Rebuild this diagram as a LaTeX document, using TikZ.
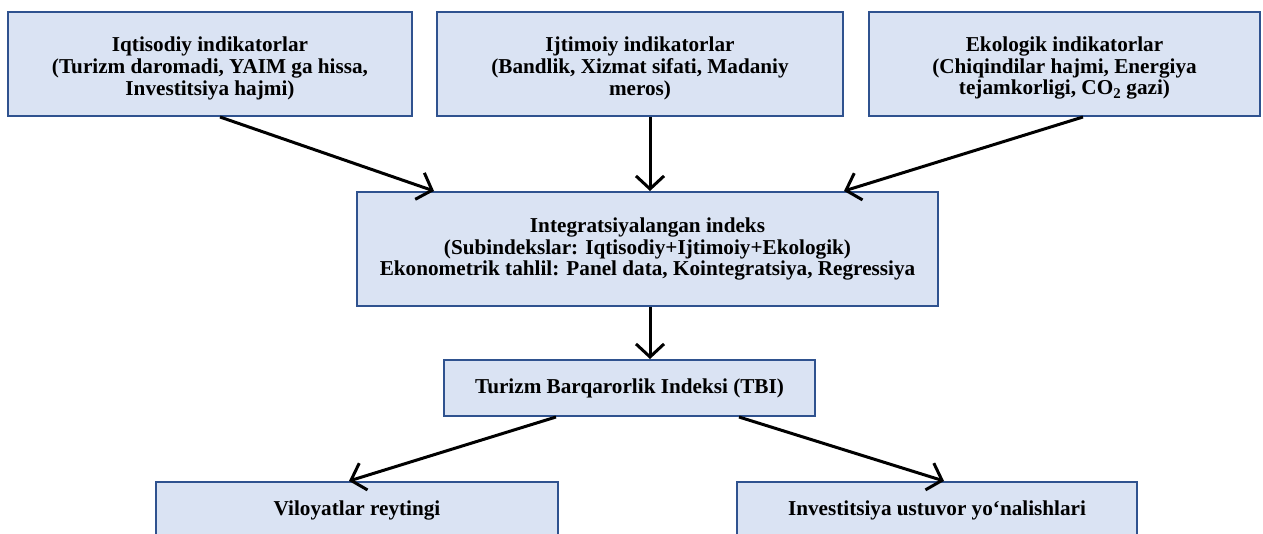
\documentclass[tikz,border=0pt]{standalone}
\usepackage{fontspec}
\setmainfont{Liberation Serif}
\usetikzlibrary{arrows.meta,calc}
\definecolor{boxfill}{HTML}{DAE3F3}
\definecolor{boxline}{HTML}{2F528F}
\newcommand{\toppad}{\rule{0pt}{23pt}}
\tikzset{
  box/.style={draw=boxline, line width=2pt, fill=boxfill, rectangle, align=center,
    inner sep=0pt, font=\fontsize{21.2}{21.8}\selectfont\bfseries},
  conn/.style={line width=3pt, -{Straight Barb[length=13pt,width=28pt,line width=3pt]}}
}
\begin{document}
\begin{tikzpicture}[x=1pt,y=-1pt]
\useasboundingbox (0,0) rectangle (1263,534);
\clip (0,0) rectangle (1263,534);
\node[box, minimum width=404pt, minimum height=104pt] (eco) at (210,64)
  {\toppad Iqtisodiy indikatorlar\\(Turizm daromadi, YAIM ga hissa,\\Investitsiya hajmi)};
\node[box, minimum width=406pt, minimum height=104pt] (soc) at (640,64)
  {\toppad Ijtimoiy indikatorlar\\(Bandlik, Xizmat sifati, Madaniy\\meros)};
\node[box, minimum width=391pt, minimum height=104pt] (env) at (1064.5,64)
  {\toppad Ekologik indikatorlar\\(Chiqindilar hajmi, Energiya\\tejamkorligi, CO\textsubscript{2} gazi)};
\node[box, minimum width=581pt, minimum height=114pt] (mid) at (647.5,249)
  {Integratsiyalangan indeks\\(Subindekslar: Iqtisodiy+Ijtimoiy+Ekologik)\\Ekonometrik tahlil: Panel data, Kointegratsiya, Regressiya};
\node[box, minimum width=371pt, minimum height=56pt] (tbi) at (629.5,388)
  {Turizm Barqarorlik Indeksi (TBI)};
\node[box, minimum width=402pt, minimum height=56pt] (vil) at (357,510)
  {Viloyatlar reytingi};
\node[box, minimum width=400pt, minimum height=56pt] (inv) at (937,510)
  {Investitsiya ustuvor yo‘nalishlari};
\draw[conn] ($(eco.south)+(10,0)$) -- ($(mid.north west)+(78,0)$);
\draw[conn] ($(soc.south)+(10,0)$) -- ($(mid.north)+(2.5,0)$);
\draw[conn] ($(env.south)+(18.5,0)$) -- ($(mid.north west)+(488,0)$);
\draw[conn] ($(mid.south)+(2.5,0)$) -- ($(tbi.north)+(20.5,0)$);
\draw[conn] ($(tbi.south west)+(113,0)$) -- ($(vil.north west)+(194,0)$);
\draw[conn] ($(tbi.south west)+(296,0)$) -- ($(inv.north west)+(208,0)$);
\end{tikzpicture}
\end{document}
